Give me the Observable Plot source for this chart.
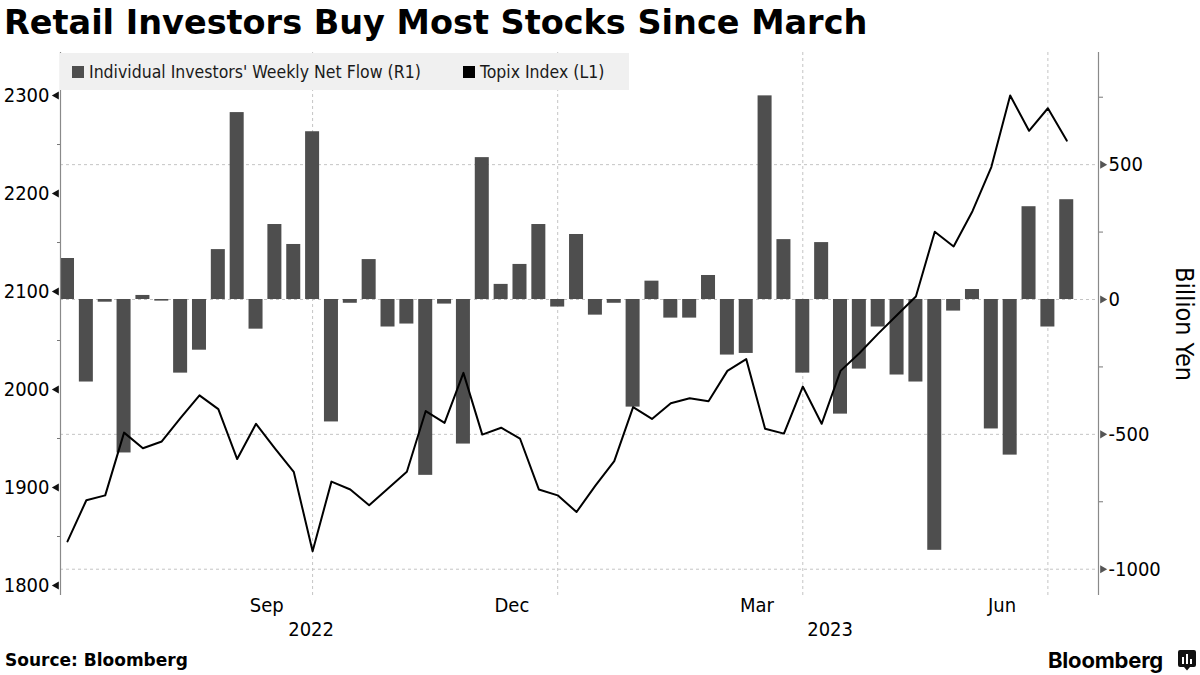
<!DOCTYPE html>
<html><head><meta charset="utf-8">
<script src="https://cdn.jsdelivr.net/npm/d3@7"></script>
<script src="https://cdn.jsdelivr.net/npm/@observablehq/plot@0.6"></script>
<style>
html,body{margin:0;padding:0;background:#fff;}
#wrap{position:relative;width:1200px;height:675px;overflow:hidden;font-family:'DejaVu Sans Condensed','DejaVu Sans',sans-serif;font-stretch:condensed;}
#title{position:absolute;left:4px;top:6px;font-family:'DejaVu Sans',Verdana,sans-serif;font-weight:bold;font-size:33.5px;line-height:33.5px;color:#000;white-space:nowrap;font-stretch:normal;}
#chart{position:absolute;left:0;top:46px;}
#legend{position:absolute;left:60px;top:53px;width:569px;height:37px;background:#f0f0f0;}
.li{position:absolute;top:0;height:37px;display:flex;align-items:center;font-size:17.5px;color:#1a1a1a;white-space:nowrap;}
.sw{width:12px;height:12px;margin-right:5px;flex:none;}
#source{position:absolute;left:5px;top:652px;font-family:'DejaVu Sans',sans-serif;font-weight:bold;font-size:17px;line-height:17px;color:#000;font-stretch:normal;}
#logo{position:absolute;left:1048px;top:649px;font-family:Inter,Roboto,sans-serif;font-weight:700;font-size:22px;line-height:22px;color:#000;font-stretch:normal;letter-spacing:-0.2px;}
#icon{position:absolute;left:1178px;top:650px;}
</style></head>
<body><div id="wrap">
<div id="title">Retail Investors Buy Most Stocks Since March</div>
<div id="chart"></div>
<div id="legend"></div>
<div id="source">Source: Bloomberg</div>
<div id="logo">Bloomberg</div>
<svg id="icon" width="18" height="21" viewBox="0 0 18 21"><path d="M2,0 H16 Q18,0 18,2 V15 Q18,17 16,17 H12 L9,20.5 L6,17 H2 Q0,17 0,15 V2 Q0,0 2,0 Z" fill="#111"/><rect x="4" y="7" width="2" height="7" fill="#fff"/><rect x="8" y="4" width="2" height="10" fill="#fff"/><rect x="12" y="9" width="2" height="5" fill="#fff"/></svg>
</div>
<script>
// ---- data ----
const weekDates = ["2022-07-01","2022-07-08","2022-07-15","2022-07-22","2022-07-29","2022-08-05","2022-08-12","2022-08-19","2022-08-26","2022-09-02","2022-09-09","2022-09-16","2022-09-23","2022-09-30","2022-10-07","2022-10-14","2022-10-21","2022-10-28","2022-11-04","2022-11-11","2022-11-18","2022-11-25","2022-12-02","2022-12-09","2022-12-16","2022-12-23","2022-12-30","2023-01-06","2023-01-13","2023-01-20","2023-01-27","2023-02-03","2023-02-10","2023-02-17","2023-02-24","2023-03-03","2023-03-10","2023-03-17","2023-03-24","2023-03-31","2023-04-07","2023-04-14","2023-04-21","2023-04-28","2023-05-05","2023-05-12","2023-05-19","2023-05-26","2023-06-02","2023-06-09","2023-06-16","2023-06-23","2023-06-30","2023-07-07"];
// Individual investors' weekly net flow, billion yen (R1)
const netFlow = [152,-306,-10,-569,15,-6,-273,-188,185,693,-110,278,204,622,-454,-14,148,-102,-91,-652,-17,-536,526,56,130,278,-28,241,-58,-14,-399,68,-69,-69,89,-206,-200,755,222,-273,211,-425,-258,-102,-280,-306,-930,-43,37,-480,-577,344,-102,370];
// Topix index (L1)
const topix = [1845,1887,1892,1956,1940,1947,1971,1994,1980,1929,1965,1940,1916,1835,1906,1898,1882,1899,1916,1978,1966,2017,1954,1961,1950,1898,1892,1875,1902,1927,1982,1970,1986,1991,1988,2019,2031,1960,1955,2003,1965,2019,2037,2057,2076,2095,2161,2146,2182,2227,2300,2264,2287,2254];
const leftTicks = [1800,1900,2000,2100,2200,2300];
const leftMinor = [1850,1950,2050,2150,2250];
const rightTicks = [500,0,-500,-1000];
const rightMinor = [750,250,-250,-750];
const monthLabels = [{date:"2022-09-13",label:"Sep"},{date:"2022-12-13",label:"Dec"},{date:"2023-03-14",label:"Mar"},{date:"2023-06-13",label:"Jun"}];
const quarterEnds = ["2022-09-30","2022-12-30","2023-03-31","2023-06-30"];
const years = ["2022","2023"];
const xDomain = ["2022-06-28T09:36Z","2023-07-18T19:00Z"];
const leftDomain = [1789.8, 2343.9];
const rightDomain = [-1097.5, 915.8];
const seriesNames = ["Individual Investors' Weekly Net Flow (R1)","Topix Index (L1)"];
const seriesColors = ["#4e4e4e","#000000"];

// ---- build ----
const x0 = new Date(xDomain[0]), x1 = new Date(xDomain[1]);
const rows = weekDates.map((d,i)=>({date:new Date(d), flow:netFlow[i], topix:topix[i]}));
const toY = d3.scaleLinear().domain(leftDomain).range(rightDomain);
const halfBar = 2.6*864e5;
const yearEnd = new Date("2022-12-31T12:00Z");
const yearRows = years.map((y,i)=>({label:y, date: i===0 ? new Date((+x0 + +yearEnd)/2) : new Date((+yearEnd + +x1)/2)}));
const gridStyle = {stroke:"#c4c4c4", strokeOpacity:1, strokeDasharray:"3,3", strokeWidth:1};

const chart = Plot.plot({
  width:1200, height:600,
  marginTop:6, marginBottom:51, marginLeft:60, marginRight:102,
  style:{fontFamily:"'DejaVu Sans Condensed','DejaVu Sans',sans-serif", fontSize:"20px", color:"#000", background:"transparent", fontStretch:"condensed"},
  x:{type:"utc", domain:[x0,x1], axis:null, label:null},
  y:{domain:rightDomain, label:null},
  marks:[
    Plot.gridY(rightTicks, gridStyle),
    Plot.gridX(quarterEnds.map(d=>new Date(d)), gridStyle),
    Plot.rect(rows, {x1:d=>new Date(+d.date-halfBar), x2:d=>new Date(+d.date+halfBar), y1:0, y2:"flow", fill:seriesColors[0]}),
    Plot.line(rows, {x:"date", y:d=>toY(d.topix), stroke:seriesColors[1], strokeWidth:2}),
    Plot.ruleX([x0], {stroke:"#8a8a8a", strokeWidth:1.2}),
    Plot.ruleX([x1], {stroke:"#8a8a8a", strokeWidth:1.2}),
    Plot.axisY(leftTicks.map(d=>toY(d)), {anchor:"left", tickSize:0, tickPadding:11, tickFormat:d=>String(Math.round(toY.invert(d))), fontSize:20}),
    Plot.axisY(leftMinor.map(d=>toY(d)), {anchor:"left", tickSize:3, tickFormat:()=>"", stroke:"#777"}),
    Plot.dot(leftTicks, {x:()=>x0, y:d=>toY(d), symbol:"triangle", rotate:-90, r:3, fill:"#111", stroke:"none", dx:-4}),
    Plot.axisY(rightTicks, {anchor:"right", tickSize:0, tickPadding:10, tickFormat:d=>String(d), fontSize:20}),
    Plot.axisY(rightMinor, {anchor:"right", tickSize:4, tickFormat:()=>"", stroke:"#777"}),
    Plot.dot(rightTicks, {x:()=>x1, y:d=>d, symbol:"triangle", rotate:90, r:3, fill:"#555", stroke:"none", dx:4}),
    Plot.text(monthLabels, {x:d=>new Date(d.date), text:"label", frameAnchor:"bottom", dy:16, fontSize:20}),
    Plot.text(yearRows, {x:"date", text:"label", frameAnchor:"bottom", dy:40, fontSize:20}),
    Plot.text(["Billion Yen"], {frameAnchor:"right", textAnchor:"middle", dx:85, rotate:90, fontSize:25})
  ]
});
document.getElementById("chart").appendChild(chart);

const legend = document.getElementById("legend");
const lefts = [12, 403];
seriesNames.forEach((n,i)=>{
  const it = document.createElement("div");
  it.className = "li"; it.style.left = lefts[i]+"px";
  const sw = document.createElement("span"); sw.className="sw"; sw.style.background = seriesColors[i];
  it.appendChild(sw); it.appendChild(document.createTextNode(n));
  legend.appendChild(it);
});
</script>
</body></html>
